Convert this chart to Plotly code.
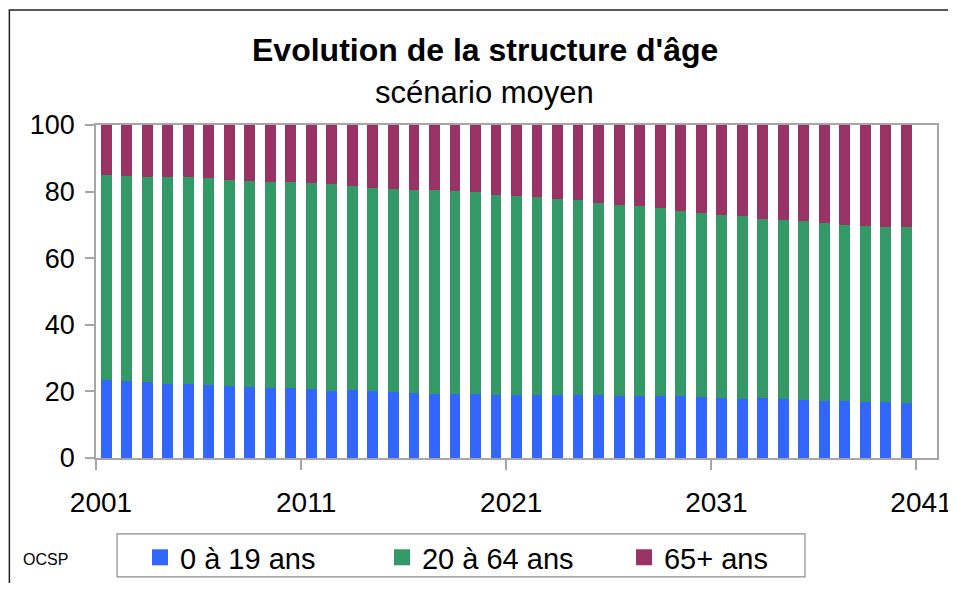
import plotly.graph_objects as go

years = list(range(2001, 2041))

share_0_19 = [23.4, 23.1, 22.8, 22.2, 22.2, 21.9, 21.6, 21.3, 21.0, 21.0,
              20.7, 20.1, 20.4, 20.1, 19.8, 19.5, 19.2, 19.2, 19.2, 18.9,
              18.9, 18.9, 18.9, 18.9, 18.9, 18.6, 18.6, 18.6, 18.6, 18.3,
              18.0, 17.7, 18.0, 17.7, 17.5, 17.1, 17.1, 16.9, 16.9, 16.5]

share_20_64 = [61.6, 61.6, 61.6, 62.2, 62.2, 62.2, 61.9, 61.9, 61.9, 61.9,
               61.9, 62.2, 61.3, 61.0, 61.0, 61.0, 61.3, 61.0, 60.7, 60.1,
               59.8, 59.5, 58.9, 58.6, 57.7, 57.4, 57.1, 56.5, 55.6, 55.3,
               55.0, 55.0, 53.8, 53.8, 53.7, 53.5, 52.9, 52.8, 52.5, 52.9]

share_65_plus = [15.0, 15.3, 15.6, 15.6, 15.6, 15.9, 16.5, 16.8, 17.1, 17.1,
                 17.4, 17.7, 18.3, 18.9, 19.2, 19.5, 19.5, 19.8, 20.1, 21.0,
                 21.3, 21.6, 22.2, 22.5, 23.4, 24.0, 24.3, 24.9, 25.8, 26.4,
                 27.0, 27.3, 28.2, 28.5, 28.8, 29.4, 30.0, 30.3, 30.6, 30.6]

series_names = ["0 à 19 ans", "20 à 64 ans", "65+ ans"]
series_colors = ["#3366FF", "#339966", "#993366"]
x_tick_values = [2001, 2011, 2021, 2031, 2041]
y_tick_values = [0, 20, 40, 60, 80, 100]

FONT = "Liberation Sans, Arial, sans-serif"
AXIS_GREY = "#A6A6A6"
BAR_W = 0.53

fig = go.Figure()
for name, vals, col in zip(series_names, [share_0_19, share_20_64, share_65_plus], series_colors):
    fig.add_trace(go.Bar(
        x=years, y=vals, name=name, showlegend=False,
        marker=dict(color=col, line=dict(width=0)),
        width=BAR_W, offset=0.5 - BAR_W / 2,
    ))
# legend entries with larger square keys
for name, col in zip(series_names, series_colors):
    fig.add_trace(go.Scatter(
        x=[None], y=[None], name=name, mode="markers",
        marker=dict(symbol="square", size=16, color=col),
        showlegend=True,
    ))

fig.update_layout(
    barmode="stack",
    width=948, height=575,
    margin=dict(l=88, r=19, t=117, b=125, autoexpand=False),
    paper_bgcolor="white", plot_bgcolor="white",
    font=dict(family=FONT, color="black"),
    showlegend=True,
    legend=dict(
        orientation="h",
        x=0.0523, xanchor="left",
        y=-0.222, yanchor="top",
        borderwidth=0, bgcolor="rgba(0,0,0,0)",
        font=dict(size=29, family=FONT),
        entrywidth=197, entrywidthmode="pixels",
        traceorder="normal",
        itemsizing="trace",
    ),
    xaxis=dict(
        range=[2001, 2042], tickmode="array", tickvals=x_tick_values,
        ticktext=[str(v) for v in x_tick_values],
        showline=True, linecolor=AXIS_GREY, linewidth=1.5, mirror=True,
        ticks="outside", ticklen=10, tickcolor=AXIS_GREY, tickwidth=1.5,
        showgrid=False, zeroline=False, automargin=False,
        tickfont=dict(size=28, family=FONT),
        ticklabelstandoff=9, ticklabelshift=5,
        ticklabeloverflow="allow",
    ),
    yaxis=dict(
        range=[0, 100], tickmode="array", tickvals=y_tick_values,
        showline=True, linecolor=AXIS_GREY, linewidth=1.5, mirror=True,
        ticks="outside", ticklen=9, tickcolor=AXIS_GREY, tickwidth=1.5,
        showgrid=False, zeroline=False, automargin=False,
        tickfont=dict(size=27, family=FONT),
        ticklabelstandoff=5,
    ),
    annotations=[
        dict(text="<b>Evolution de la structure d'âge</b>", xref="paper", yref="paper",
             x=0.4625, y=1.226, xanchor="center", yanchor="middle", showarrow=False,
             font=dict(size=32, family=FONT, color="black")),
        dict(text="scénario moyen", xref="paper", yref="paper",
             x=0.4625, y=1.099, xanchor="center", yanchor="middle", showarrow=False,
             font=dict(size=31, family=FONT, color="black")),
        dict(text="OCSP", xref="paper", yref="paper",
             x=-0.0606, y=-0.305, xanchor="center", yanchor="middle", showarrow=False,
             font=dict(size=16, family=FONT, color="black")),
    ],
    shapes=[
        dict(type="rect", xref="paper", yref="paper",
             x0=-0.103, x1=1.05, y0=-0.5, y1=1.345,
             line=dict(color="#222222", width=1.5), layer="below"),
        dict(type="rect", xref="paper", yref="paper",
             x0=0.025, x1=0.843, y0=-0.357, y1=-0.228,
             line=dict(color="#8C8C8C", width=1.2), fillcolor="white", layer="below"),
    ],
)

fig.write_html("out.html")
